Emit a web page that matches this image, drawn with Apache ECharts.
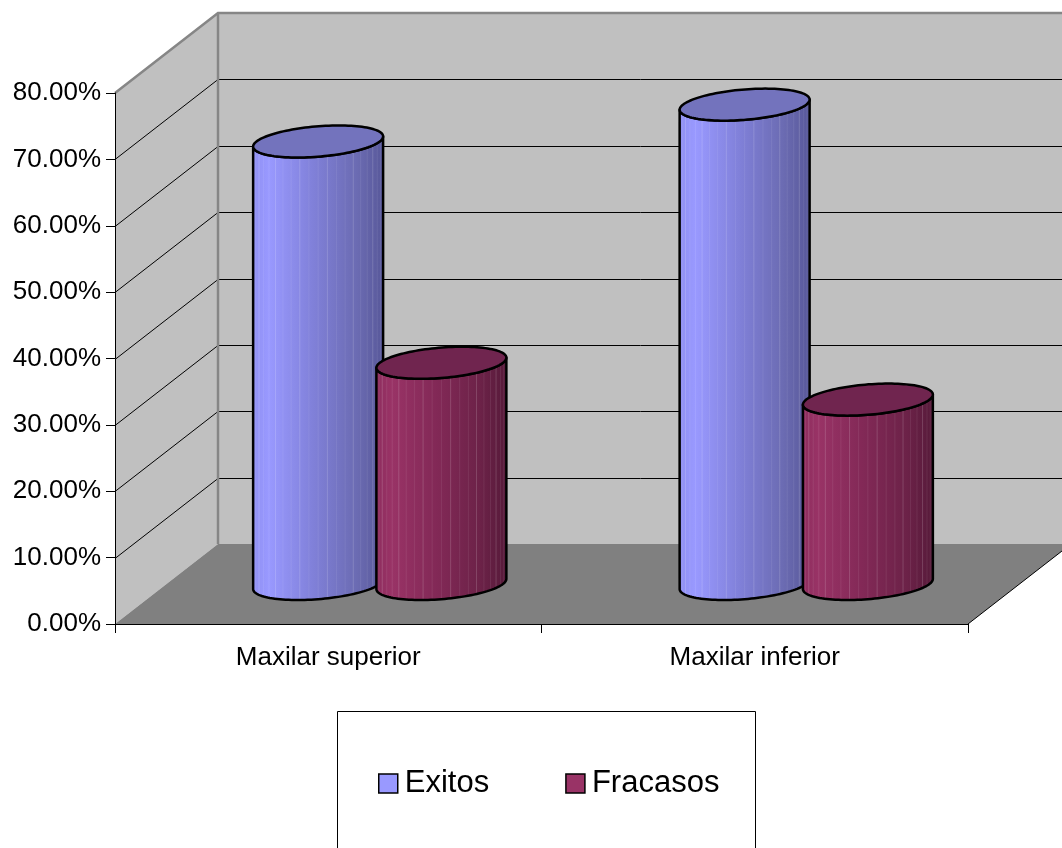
<!DOCTYPE html>
<html>
<head>
<meta charset="utf-8">
<style>
  html, body { margin: 0; padding: 0; background: #fff; }
  #chart { width: 1062px; height: 848px; }
</style>
<script src="https://cdn.jsdelivr.net/npm/echarts@6/dist/echarts.min.js"></script>
</head>
<body>
<div id="chart"></div>
<script>
// Data
const categories = ['Maxilar superior', 'Maxilar inferior'];
const exitos = [0.6667, 0.7222];
const fracasos = [0.3333, 0.2778];
const yTicks = [0, 0.1, 0.2, 0.3, 0.4, 0.5, 0.6, 0.7, 0.8];
const seriesNames = ['Exitos', 'Fracasos'];

// 3D box geometry (oblique projection of the depth axis)
const DX = 103, DY = -80;
const FONT = 'Liberation Sans, Arial, sans-serif';

// Back wall, side wall, floor and their grid lines
function renderFrame(params, api) {
  const cs = params.coordSys;
  const x0 = cs.x, x1 = cs.x + cs.width;
  const yt = cs.y, yb = cs.y + cs.height;
  const ch = [];
  ch.push({ type: 'polygon', shape: { points: [[x0 + DX, yt + DY], [x1 + DX, yt + DY], [x1 + DX, yb + DY], [x0 + DX, yb + DY]] },
            style: { fill: '#c0c0c0' } });
  ch.push({ type: 'polygon', shape: { points: [[x0, yt], [x0 + DX, yt + DY], [x0 + DX, yb + DY], [x0, yb]] },
            style: { fill: '#c0c0c0' } });
  yTicks.forEach(function (v) {
    if (v <= 0 || v >= yTicks[yTicks.length - 1]) return;
    const y = Math.round(api.coord([0, v])[1]) + 0.5;
    ch.push({ type: 'line', shape: { x1: x0 + DX, y1: y + DY, x2: x1 + DX, y2: y + DY }, style: { stroke: '#000', lineWidth: 1 } });
    ch.push({ type: 'line', shape: { x1: x0, y1: y, x2: x0 + DX, y2: y + DY }, style: { stroke: '#000', lineWidth: 1 } });
  });
  ch.push({ type: 'line', shape: { x1: x0 + DX, y1: yt + DY, x2: x0 + DX, y2: yb + DY }, style: { stroke: '#868686', lineWidth: 2.5 } });
  ch.push({ type: 'polygon', shape: { points: [[x0, yb], [x0 + DX, yb + DY], [x1 + DX, yb + DY], [x1, yb]] },
            style: { fill: '#808080' } });
  ch.push({ type: 'line', shape: { x1: x1, y1: yb, x2: x1 + DX, y2: yb + DY }, style: { stroke: '#000', lineWidth: 1 } });
  ch.push({ type: 'polyline', shape: { points: [[x0, yt], [x0 + DX, yt + DY], [x1 + DX, yt + DY]] },
            style: { stroke: '#868686', lineWidth: 2.5, fill: null } });
  return { type: 'group', children: ch };
}

// Cylinder drawn at mid-depth for a category/value pair
function makeCylinder(offsetFrac, sideStops, topColor) {
  return function (params, api) {
    const ci = api.value(0), v = api.value(1);
    const top = api.coord([ci, v]);
    const base = api.coord([ci, 0]);
    const bw = api.size([1, 0])[0];
    const cx = top[0] + offsetFrac * bw + DX / 2;
    const ty = top[1] + DY / 2, by = base[1] + DY / 2;
    const r = 0.1445 * bw;
    const k = 0.00325;
    const A = r * k * DX, B = r * k * (-DY);
    const alpha = Math.atan2(A, r);
    const N = 60;
    const pt = function (t, cy) { return [cx + r * Math.cos(t) + A * Math.sin(t), cy - B * Math.sin(t)]; };
    const front = [];
    for (let i = 0; i <= N; i++) front.push(Math.PI + alpha + Math.PI * i / N);
    const body = [];
    front.forEach(function (t) { body.push(pt(t, by)); });
    for (let i = front.length - 1; i >= 0; i--) body.push(pt(front[i], ty));
    const ell = [];
    for (let i = 0; i < 120; i++) ell.push(pt(2 * Math.PI * i / 120, ty));
    const ch = [];
    ch.push({ type: 'polygon', shape: { points: body },
              style: { fill: new echarts.graphic.LinearGradient(0, 0, 1, 0, sideStops), stroke: null } });
    // facet seams
    const seams = 22;
    for (let i = 1; i < seams; i++) {
      const t = Math.PI + alpha + Math.PI * i / seams;
      const a = pt(t, ty), b = pt(t, by);
      ch.push({ type: 'line', shape: { x1: a[0], y1: a[1], x2: b[0], y2: b[1] },
                style: { stroke: 'rgba(255,255,255,' + (i % 3 === 0 ? 0.16 : 0.08) + ')', lineWidth: 1 } });
    }
    ch.push({ type: 'polygon', shape: { points: body }, style: { fill: null, stroke: '#000', lineWidth: 2.5, lineJoin: 'round' } });
    ch.push({ type: 'polygon', shape: { points: ell }, style: { fill: topColor, stroke: '#000', lineWidth: 2.5 } });
    return { type: 'group', children: ch };
  };
}

const exitosSide = [
  { offset: 0, color: '#9090f2' }, { offset: 0.12, color: '#9999ff' }, { offset: 0.45, color: '#8181da' },
  { offset: 0.8, color: '#6b6bb2' }, { offset: 1, color: '#58589a' }
];
const fracasosSide = [
  { offset: 0, color: '#8e2d5e' }, { offset: 0.12, color: '#993366' }, { offset: 0.45, color: '#832957' },
  { offset: 0.8, color: '#6c2248' }, { offset: 1, color: '#571a3a' }
];

const chart = echarts.init(document.getElementById('chart'), null, { renderer: 'canvas' });
chart.setOption({
  animation: false,
  backgroundColor: '#ffffff',
  textStyle: { fontFamily: FONT },
  grid: { left: 115, top: 93, width: 853, height: 531 },
  xAxis: {
    type: 'category', data: categories, z: 10,
    axisLine: { lineStyle: { color: '#000', width: 1 } },
    axisTick: { show: true, length: 9, lineStyle: { color: '#000' } },
    axisLabel: { color: '#000', fontSize: 26, fontFamily: FONT, margin: 21 }
  },
  yAxis: {
    type: 'value', min: 0, max: 0.8, interval: 0.1, z: 10,
    axisLine: { show: true, lineStyle: { color: '#000', width: 1 } },
    axisTick: { show: true, length: 9, lineStyle: { color: '#000' } },
    splitLine: { show: false },
    axisLabel: { color: '#000', fontSize: 26, fontFamily: FONT, margin: 14,
                 formatter: function (v) { return (v * 100).toFixed(2) + '%'; } }
  },
  legend: {
    data: seriesNames, left: 373, top: 763, icon: 'rect', itemWidth: 19, itemHeight: 19, itemGap: 76,
    itemStyle: { borderColor: '#000', borderWidth: 1.5 },
    textStyle: { color: '#000', fontSize: 31, fontFamily: FONT, padding: [0, 0, 0, 2] }
  },
  graphic: [{
    type: 'rect', shape: { x: 337.5, y: 711.5, width: 418, height: 200 },
    style: { fill: null, stroke: '#000', lineWidth: 1 }, silent: true
  }],
  series: [
    { type: 'custom', name: 'frame', z: 1, silent: true, renderItem: renderFrame, data: [[0, 0]] },
    { type: 'custom', name: seriesNames[0], z: 3, itemStyle: { color: '#9999ff' },
      renderItem: makeCylinder(-0.1445, exitosSide, '#7373bd'),
      data: exitos.map(function (v, i) { return [i, v]; }) },
    { type: 'custom', name: seriesNames[1], z: 4, itemStyle: { color: '#993366' },
      renderItem: makeCylinder(0.1445, fracasosSide, '#70254f'),
      data: fracasos.map(function (v, i) { return [i, v]; }) }
  ]
});
</script>
</body>
</html>
